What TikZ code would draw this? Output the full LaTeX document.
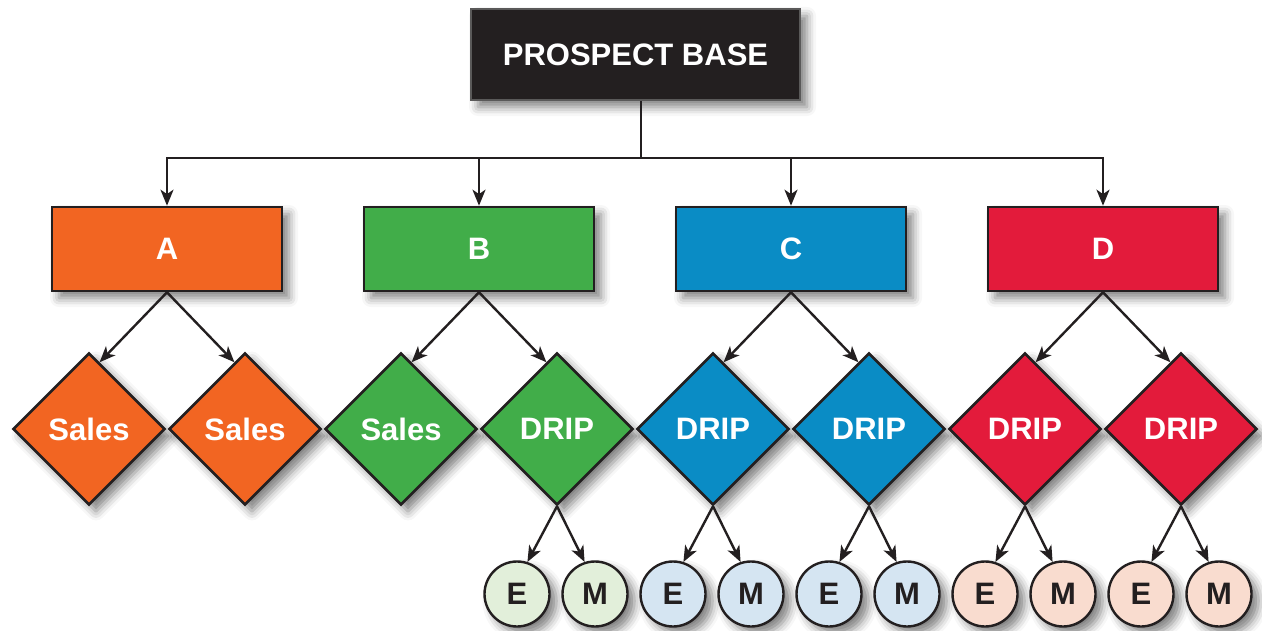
\documentclass[tikz,border=0pt]{standalone}
\usepackage{fontspec}
\setmainfont{Liberation Sans}
\usetikzlibrary{shapes.geometric,arrows.meta,shadows.blur}
\definecolor{ink}{HTML}{231F20}
\definecolor{segA}{HTML}{F26522}
\definecolor{segB}{HTML}{41AD49}
\definecolor{segC}{HTML}{0A8CC5}
\definecolor{segD}{HTML}{E31B3B}
\definecolor{paleB}{HTML}{E2EFDA}
\definecolor{paleC}{HTML}{D5E5F2}
\definecolor{paleD}{HTML}{F9DCCF}
\begin{document}
\begin{tikzpicture}[x=0.5pt,y=-0.5pt,
  every node/.style={font=\bfseries\fontsize{15.5}{18}\selectfont, text=white},
  dropshadow/.style={blur shadow={shadow xshift=3.5pt,shadow yshift=-3.5pt,shadow blur radius=4.5pt,shadow opacity=50}},
  headbox/.style={rectangle, fill=ink, draw=gray!60!ink, line width=1pt,
    minimum width=164.5pt, minimum height=45.5pt, dropshadow},
  lvl/.style={rectangle, draw=ink, line width=1.3pt, minimum width=115pt, minimum height=42pt, dropshadow},
  choice/.style={diamond, draw=ink, line width=1.3pt, minimum width=76pt, minimum height=76pt,
    inner sep=0pt, dropshadow},
  touch/.style={circle, draw=ink, line width=1.2pt, minimum size=32.5pt, inner sep=0pt,
    text=ink, dropshadow},
  wire/.style={draw=ink, line width=1.2pt},
  arr/.style={wire, -{Stealth[length=8pt,width=6.5pt,inset=2.2pt]}}
]
\useasboundingbox (0,0) rectangle (1262,631);

% root
\node[headbox] (top) at (635.5,54.5) {PROSPECT BASE};

% segments
\foreach \n/\x/\c in {A/167/segA, B/479/segB, C/791/segC, D/1103/segD}
  \node[lvl, fill=\c] (\n) at (\x,249) {\n};

% channels
\foreach \n/\x/\c/\t in {d1/89/segA/Sales, d2/245/segA/Sales, d3/401/segB/Sales, d4/557/segB/DRIP,
    d5/713/segC/DRIP, d6/869/segC/DRIP, d7/1025/segD/DRIP, d8/1181/segD/DRIP}
  \node[choice, fill=\c] (\n) at (\x,429) {\t};

% email / mail touches
\foreach \n/\x/\c/\t in {e4/517/paleB/E, m4/595/paleB/M, e5/673/paleC/E, m5/751/paleC/M,
    e6/829/paleC/E, m6/907/paleC/M, e7/985/paleD/E, m7/1063/paleD/M,
    e8/1141/paleD/E, m8/1219/paleD/M}
  \node[touch, fill=\c] (\n) at (\x,594) {\t};

% distribution bus
\coordinate (bus) at (641,158);
\draw[wire] (top.south -| bus) -- (bus);
\foreach \n in {A,B,C,D}
  \draw[arr] (bus) -| (\n.north);

% segment -> channel
\foreach \s/\l/\r in {A/d1/d2, B/d3/d4, C/d5/d6, D/d7/d8} {
  \draw[arr] (\s.south) -- (\l.81);
  \draw[arr] (\s.south) -- (\r.99);
}

% DRIP -> touches
\foreach \d/\e/\m in {d4/e4/m4, d5/e5/m5, d6/e6/m6, d7/e7/m7, d8/e8/m8} {
  \draw[arr] (\d.south) -- (\e.72);
  \draw[arr] (\d.south) -- (\m.108);
}
\end{tikzpicture}
\end{document}
